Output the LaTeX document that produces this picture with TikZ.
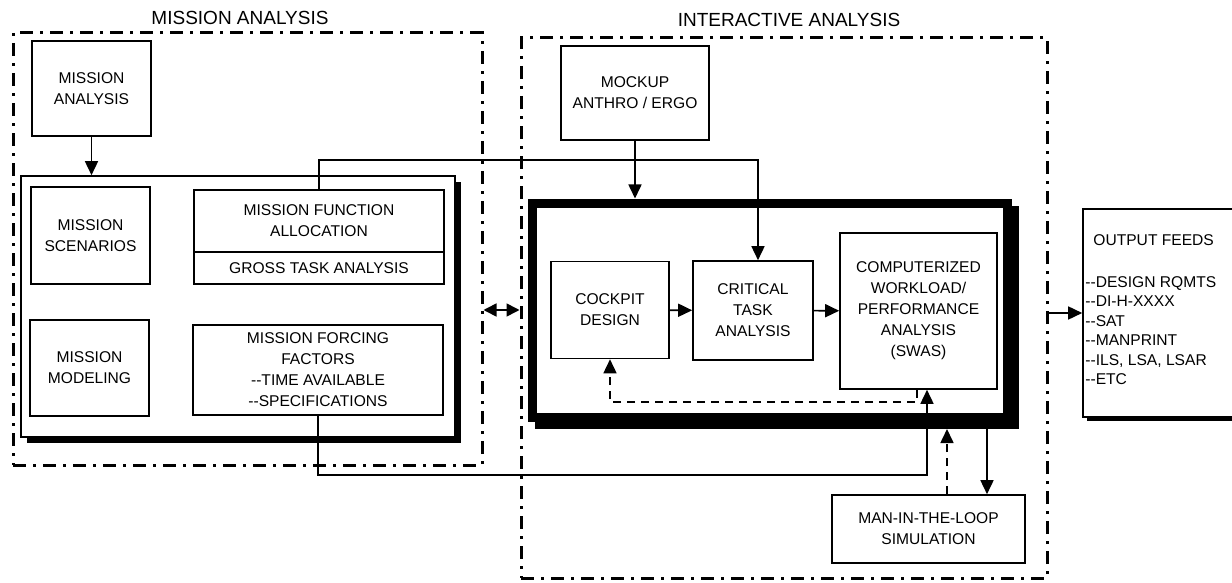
\documentclass[tikz,border=0pt]{standalone}
\usepackage{fontspec}
\setmainfont{Liberation Sans}
\usetikzlibrary{arrows.meta,shadows}
\newcommand{\boxfont}{\fontsize{7.8pt}{10.5pt}\selectfont}
\newcommand{\headfont}{\fontsize{9.5pt}{11pt}\selectfont}
\tikzset{phase/.style={draw,line width=1.5pt,dash pattern=on 6.5pt off 3.5pt on 1.5pt off 3.5pt,inner sep=0pt},
    phasetitle/.style={font=\headfont,inner sep=0pt},
    box/.style={draw,fill=white,line width=0.8pt,align=center,inner sep=0pt,font=\boxfont},
    shadowbox/.style={box,drop shadow={shadow xshift=3pt,shadow yshift=-3pt,opacity=1,fill=black}},
    heavybox/.style={draw,fill=white,line width=4.5pt,inner sep=0pt,
        drop shadow={shadow xshift=3.5pt,shadow yshift=-3.5pt,opacity=1,fill=black,draw=black,line width=4.5pt}},
    arr/.style={line width=0.8pt,-{Triangle[length=7pt,width=6.5pt]}},
    dasharr/.style={arr,dash pattern=on 4pt off 3pt},
    dblarr/.style={line width=0.8pt,{Triangle[length=6.5pt,width=6.5pt]}-{Triangle[length=6.5pt,width=6.5pt]}}
}

\begin{document}
\begin{tikzpicture}[x=0.5pt,y=-0.5pt]
    \useasboundingbox (0,0) rectangle (1232,583);
    \clip (0,0) rectangle (1232,583);

    % Phases
    \node[phase,minimum width=234.5pt,minimum height=216pt] (mphase) at (247.5,249) {};
    \node[phase,minimum width=263pt,minimum height=270pt] (iphase) at (784,308) {};
    \node[phasetitle] (mtitle) at (240,18) {MISSION ANALYSIS};
    \node[phasetitle] (ititle) at (789,20) {INTERACTIVE ANALYSIS};

    % Mission analysis
    \node[box,minimum width=59.5pt,minimum height=47.5pt] (ma) at (91.5,88.5) {MISSION\\ANALYSIS};
    \node[shadowbox,minimum width=217pt,minimum height=130.5pt] (mframe) at (238,306.5) {};
    \node[box,minimum width=59.5pt,minimum height=48.5pt] (ms) at (90.5,235.5) {MISSION\\SCENARIOS};
    \node[box,minimum width=125pt,minimum height=31pt] (mfa) at (319,221) {MISSION FUNCTION\\ALLOCATION};
    \node[box,minimum width=125pt,minimum height=16pt] (gta) at (319,268) {GROSS TASK ANALYSIS};
    \node[box,minimum width=59.5pt,minimum height=48pt] (mm) at (89.5,368) {MISSION\\MODELING};
    \node[box,minimum width=125pt,minimum height=45pt] (mff) at (318,370) {MISSION FORCING\\FACTORS\\-{}-TIME AVAILABLE\\-{}-SPECIFICATIONS};
    \draw[arr] (ma) -- (ma |- mframe.north);

    % Interactive analysis
    \node[box,minimum width=74pt,minimum height=47pt] (mock) at (635,93) {MOCKUP\\ANTHRO / ERGO};
    \node[heavybox,minimum width=237.5pt,minimum height=107pt] (iframe) at (770,310) {};
    \node[box,minimum width=59pt,minimum height=48.5pt] (cockpit) at (610,310) {COCKPIT\\DESIGN};
    \node[box,minimum width=60pt,minimum height=49.5pt] (critical) at (753,310.5) {CRITICAL\\TASK\\ANALYSIS};
    \node[box,minimum width=78.5pt,minimum height=78pt] (comp) at (918.5,311) {COMPUTERIZED\\WORKLOAD/\\PERFORMANCE\\ANALYSIS\\(SWAS)};
    \node[box,minimum width=96.5pt,minimum height=34pt] (mitl) at (928.5,529) {MAN-IN-THE-LOOP\\SIMULATION};
    \draw[arr] (mock) -- (mock |- iframe.north);
    \draw[arr] (cockpit) -- (critical);
    \draw[arr] (critical) -- (comp);
    \coordinate (swasback) at (917,402);
    \draw[dasharr] (swasback |- comp.south) -- (swasback) -| (cockpit.south);
    \coordinate (simdown) at (987,429);
    \coordinate (simup) at (947,429);
    \draw[arr] (simdown) -- (simdown |- mitl.north);
    \draw[dasharr] (simup |- mitl.north) -- (simup);

    % Links between phases
    \coordinate (critin) at (758,160);
    \draw[arr] (mfa.north) |- (critin) -- (critin |- critical.north);
    \coordinate (forcerun) at (927,475);
    \draw[arr] (mff.south) |- (forcerun) -- (forcerun |- comp.south);
    \draw[dblarr] (mphase.east |- cockpit) -- (iphase.west |- cockpit);

    % Output feeds
    \node[box,minimum width=83.5pt,minimum height=104pt,
        drop shadow={shadow xshift=2pt,shadow yshift=-2pt,opacity=1,fill=black}] (feeds) at (1166.5,313) {};
    \node[anchor=west,font=\boxfont,inner sep=0pt] (feedhead) at (1093,240) {OUTPUT FEEDS};
    \node[anchor=north west,align=left,font=\fontsize{7.8pt}{9.75pt}\selectfont,inner sep=0pt] (feedlist) at (1085,276)
        {-{}-DESIGN RQMTS\\-{}-DI-H-XXXX\\-{}-SAT\\-{}-MANPRINT\\-{}-ILS, LSA, LSAR\\-{}-ETC};
    \draw[arr] (iphase.east |- feeds.west) -- (feeds.west);
\end{tikzpicture}
\end{document}
